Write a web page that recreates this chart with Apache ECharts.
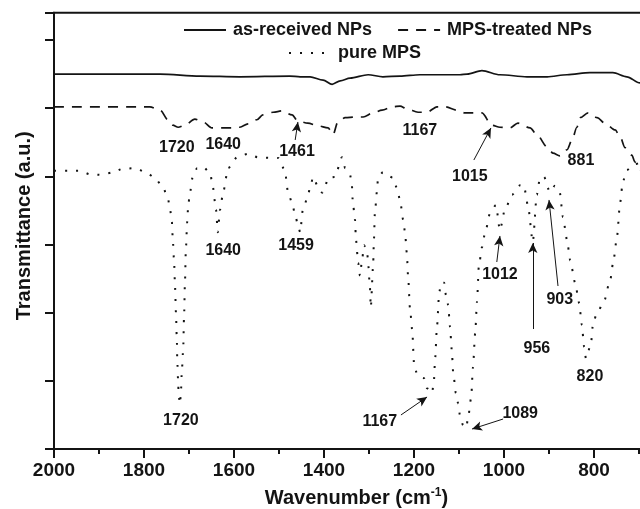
<!DOCTYPE html>
<html><head><meta charset="utf-8">
<script src="https://cdn.jsdelivr.net/npm/echarts@6/dist/echarts.min.js"></script>
<style>html,body{margin:0;padding:0;background:#fff}#c{width:640px;height:509px}</style>
</head><body><div id="c"></div>
<script>
// ---- data (wavenumber cm^-1, transmittance a.u.) ----
const asReceivedWn = [2000,1764,1676,1587,1476,1453,1431,1402,1382,1364,1342,1302,1269,1231,1187,1142,1098,1082,1049,1009,949,904,860,809,758,727,698,690];
const asReceivedT  = [5.50,5.50,5.47,5.46,5.47,5.46,5.46,5.41,5.35,5.40,5.44,5.49,5.46,5.47,5.49,5.49,5.49,5.50,5.55,5.49,5.46,5.46,5.49,5.52,5.52,5.46,5.37,5.33];

const mpsTreatedWn = [2000,1787,1764,1747,1736,1724,1709,1687,1669,1649,1627,1604,1587,1569,1549,1536,1513,1493,1471,1458,1436,1413,1391,1380,1369,1353,1331,1313,1291,1271,1247,1231,1216,1191,1171,1149,1131,1104,1087,1049,1027,1009,987,969,942,927,904,891,876,860,849,838,831,813,793,776,753,742,731,716,709,698];
const mpsTreatedT  = [5.02,5.02,4.97,4.83,4.75,4.72,4.75,4.84,4.80,4.71,4.71,4.71,4.72,4.77,4.83,4.90,4.94,4.96,4.90,4.81,4.78,4.74,4.71,4.61,4.80,4.86,4.87,4.87,4.93,4.97,5.02,5.03,4.99,4.94,4.94,5.02,5.02,4.97,4.93,4.93,4.75,4.72,4.71,4.78,4.71,4.61,4.43,4.34,4.30,4.39,4.53,4.72,4.86,4.93,4.86,4.78,4.68,4.58,4.42,4.31,4.21,4.09];

const pureMpsWn = [2000,1969,1942,1920,1893,1869,1847,1820,1796,1776,1758,1747,1742,1738,1736,1733,1731,1729,1727,1726,1724,1723,1720,1718,1716,1713,1711,1709,1707,1704,1702,1698,1691,1682,1669,1653,1647,1640,1636,1631,1624,1613,1593,1569,1547,1520,1502,1487,1480,1471,1464,1458,1453,1447,1436,1431,1424,1413,1404,1398,1391,1376,1360,1353,1342,1338,1336,1331,1329,1324,1320,1316,1311,1304,1302,1298,1296,1291,1289,1287,1282,1280,1269,1247,1238,1231,1224,1220,1216,1213,1209,1204,1200,1193,1178,1171,1160,1156,1153,1149,1144,1140,1133,1129,1124,1120,1116,1113,1107,1102,1098,1091,1084,1080,1073,1069,1064,1060,1056,1049,1042,1031,1018,1009,998,982,964,956,947,936,927,920,911,898,887,876,869,860,853,842,833,827,822,818,807,802,793,778,764,756,749,742,736,727,713,698];
const pureMpsT  = [4.08,4.08,4.08,4.03,4.02,4.06,4.11,4.12,4.06,3.98,3.84,3.68,3.51,3.33,3.07,2.73,2.38,2.00,1.60,1.28,0.97,0.79,0.66,0.82,1.13,1.45,1.94,2.44,2.92,3.33,3.55,3.76,4.02,4.12,4.14,4.05,3.84,3.51,3.18,3.51,3.77,4.12,4.28,4.33,4.28,4.27,4.27,4.09,3.77,3.61,3.43,3.29,3.18,3.51,3.70,3.84,3.99,3.84,3.76,3.84,3.98,3.99,4.28,4.12,4.02,3.87,3.62,3.36,3.07,2.73,2.54,2.74,2.99,2.89,2.73,2.38,2.08,2.67,3.07,3.46,3.80,3.98,4.06,3.98,3.83,3.65,3.36,3.18,2.88,2.52,2.07,1.75,1.26,1.09,1.04,0.89,0.82,0.97,1.33,1.79,2.29,2.44,2.44,2.26,2.11,1.79,1.45,1.13,0.82,0.67,0.50,0.35,0.31,0.45,0.75,1.20,1.70,2.16,2.67,2.96,3.17,3.46,3.58,3.21,3.51,3.73,3.87,3.87,3.58,3.04,3.73,3.98,3.99,3.77,3.86,3.76,3.40,3.07,2.77,2.44,2.14,1.82,1.50,1.33,1.53,1.85,2.00,2.16,2.48,2.80,3.11,3.61,3.92,4.09,4.17,4.20];

// peak annotations
const labelTexts = ['1720','1640','1461','1167','1015','881','1640','1459','1720','1167','1089','1012','903','956','820'];
const labelWn    = [1727,1624,1460,1187,1076,829,1624,1462,1718,1276,964,1009,876,927,809];
const labelT     = [4.415,4.46,4.357,4.665,3.99,4.225,2.905,2.978,0.411,0.396,0.513,2.552,2.186,1.467,1.056];

// arrows: from (wn,T) to (wn,T)
const arrowFromWn = [1464,1067,1229,1002,1016,880,936];
const arrowFromT  = [4.533,4.239,0.499,0.44,2.743,2.391,1.76];
const arrowToWn   = [1458,1029,1171,1071,1009,900,936];
const arrowToT    = [4.797,4.709,0.763,0.293,3.125,3.653,3.022];

const xTickStep = 200;

// ---- chart ----
const FONT = '"Liberation Sans", Arial, Helvetica, sans-serif';
const INK = '#141414';
const zip = (a, b) => a.map((v, i) => [v, b[i]]);

const chart = echarts.init(document.getElementById('c'), null, {renderer: 'canvas'});
chart.setOption({
  animation: false,
  backgroundColor: '#fff',
  grid: {left: 54, top: 12.7, width: 630, height: 436.3, containLabel: false, outerBoundsMode: 'none',
         show: true, borderColor: INK, borderWidth: 2, backgroundColor: 'transparent'},
  legend: [
    {data: ['as-received NPs', 'MPS-treated NPs'], left: 183, top: 21, padding: 0, itemWidth: 42, itemHeight: 14, itemGap: 25,
     textStyle: {fontSize: 18, fontWeight: 'bold', color: INK, fontFamily: FONT, padding: [0, 0, 0, 2]}, selectedMode: false},
    {data: ['pure MPS'], left: 288, top: 44, padding: 0, itemWidth: 42, itemHeight: 14,
     textStyle: {fontSize: 18, fontWeight: 'bold', color: INK, fontFamily: FONT, padding: [0, 0, 0, 2]}, selectedMode: false}
  ],
  xAxis: {
    type: 'value', inverse: true, min: 600, max: 2000, interval: xTickStep,
    name: 'Wavenumber (cm{sup|-1})', nameLocation: 'middle', nameGap: 38,
    nameTextStyle: {fontSize: 20, fontWeight: 'bold', color: INK, fontFamily: FONT, padding: [0, 25, 0, 0], lineHeight: 22,
      rich: {sup: {fontSize: 12, fontWeight: 'bold', color: INK, fontFamily: FONT, verticalAlign: 'top', lineHeight: 22}}},
    axisLine: {show: true, lineStyle: {color: INK, width: 2}},
    axisTick: {show: true, inside: false, length: 9, lineStyle: {color: INK, width: 2}},
    minorTick: {show: true, splitNumber: 2, length: 5, lineStyle: {color: INK, width: 2}},
    axisLabel: {fontSize: 19, fontWeight: 'bold', color: INK, fontFamily: FONT, margin: 12, formatter: v => String(v)},
    splitLine: {show: false}, minorSplitLine: {show: false}
  },
  yAxis: {
    type: 'value', min: 0, max: 6.4, interval: 1,
    name: 'Transmittance (a.u.)', nameLocation: 'middle', nameGap: 20,
    nameTextStyle: {fontSize: 20, fontWeight: 'bold', color: INK, fontFamily: FONT, padding: [0, 0, 0, 10]},
    axisLine: {show: true, lineStyle: {color: INK, width: 2}},
    axisTick: {show: true, inside: false, length: 9, lineStyle: {color: INK, width: 2}},
    axisLabel: {show: false},
    splitLine: {show: false}
  },
  series: [
    {name: 'as-received NPs', type: 'line', data: zip(asReceivedWn, asReceivedT), symbol: 'none', smooth: 0.3, smoothMonotone: 'x',
     lineStyle: {color: INK, width: 1.7, type: 'solid'}, itemStyle: {color: 'transparent', borderWidth: 0}, z: 3},
    {name: 'MPS-treated NPs', type: 'line', data: zip(mpsTreatedWn, mpsTreatedT), symbol: 'none', smooth: 0.3, smoothMonotone: 'x',
     lineStyle: {color: INK, width: 1.7, type: [10, 8]}, itemStyle: {color: 'transparent', borderWidth: 0}, z: 3},
    {name: 'pure MPS', type: 'line', data: zip(pureMpsWn, pureMpsT), symbol: 'none', smooth: 0.25, smoothMonotone: 'x',
     lineStyle: {color: INK, width: 2, type: [2, 9]}, itemStyle: {color: 'transparent', borderWidth: 0}, z: 3},
    {name: 'annotations', type: 'scatter', silent: true, symbolSize: 1, itemStyle: {color: 'rgba(0,0,0,0)'},
     data: labelWn.map((w, i) => [w, labelT[i], labelTexts[i]]),
     label: {show: true, position: 'inside', formatter: p => p.value[2], fontSize: 16, fontWeight: 'bold', color: INK,
             fontFamily: FONT, textBorderWidth: 0, opacity: 1},
     markLine: {silent: true, animation: false, symbol: ['none', 'arrow'], symbolSize: [7, 10],
       itemStyle: {color: INK, opacity: 1},
       lineStyle: {color: INK, width: 1, type: 'solid', opacity: 1}, label: {show: false}, emphasis: {disabled: true},
       data: arrowFromWn.map((w, i) => [{coord: [w, arrowFromT[i]]}, {coord: [arrowToWn[i], arrowToT[i]]}])},
     z: 5}
  ]
});
</script></body></html>
